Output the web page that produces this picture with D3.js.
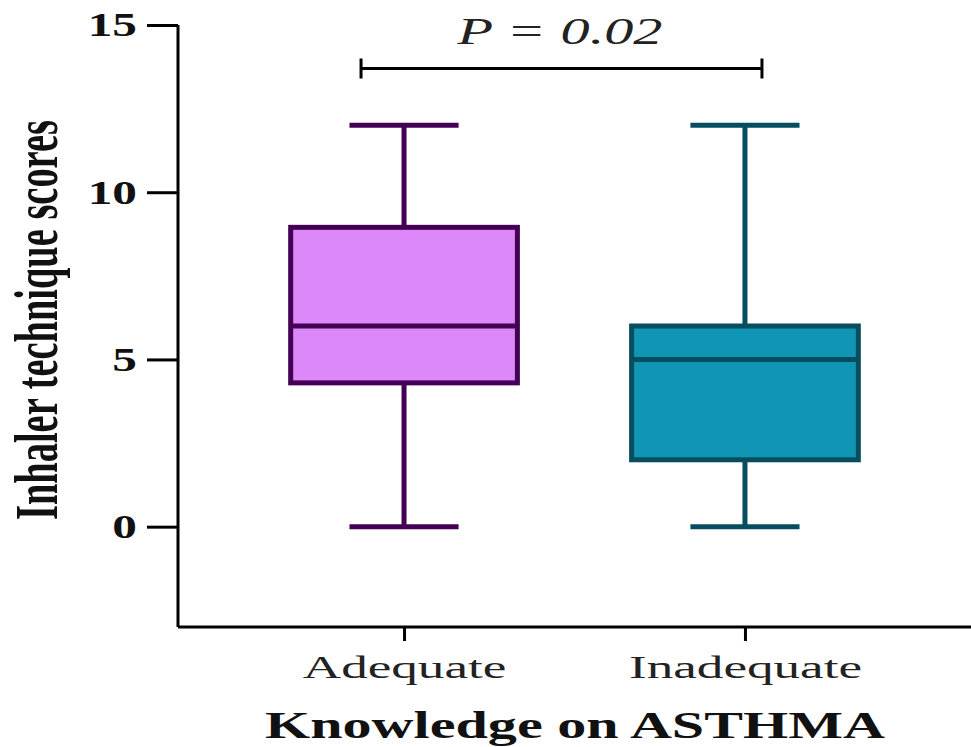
<!DOCTYPE html>
<html>
<head>
<meta charset="utf-8">
<script src="https://cdn.jsdelivr.net/npm/d3@7"></script>
<style>
  body { margin: 0; background: #fff; }
  svg { display: block; }
</style>
</head>
<body>
<div id="chart"></div>
<script>
const groups = ['Adequate', 'Inadequate'];
const mins = [0, 0];
const q1s = [4.3, 2];
const medians = [6, 5];
const q3s = [8.95, 6];
const maxs = [12, 12];
const fills = ['#dc88f8', '#1096b4'];
const strokes = ['#440055', '#064d60'];
const yTicks = [0, 5, 10, 15];
const pLabel = 'P = 0.02';

const width = 971;
const height = 747;

const svg = d3.select('#chart')
    .append('svg')
    .attr('width', width)
    .attr('height', height);

// the original figure is stretched sideways, so widen text to match
function stretch(sel, k) {
    sel.each(function () {
        const len = this.getComputedTextLength();
        d3.select(this)
            .attr('textLength', len * k)
            .attr('lengthAdjust', 'spacingAndGlyphs');
    });
}

const x = d3.scalePoint()
    .domain(groups)
    .range([178, 971])
    .padding(0.663);

const y = d3.scaleLinear()
    .domain([-3, 15])
    .range([627, 25]);

const step = x.step();
const boxW = step * 0.665;
const capW = step * 0.32;

const data = groups.map((g, i) => ({
    name: g, min: mins[i], q1: q1s[i], med: medians[i], q3: q3s[i], max: maxs[i],
    fill: fills[i], stroke: strokes[i]
}));

// boxes
const box = svg.append('g')
    .selectAll('g')
    .data(data)
    .enter()
    .append('g');

box.append('line')
    .attr('x1', d => x(d.name)).attr('x2', d => x(d.name))
    .attr('y1', d => y(d.max)).attr('y2', d => y(d.q3))
    .attr('stroke', d => d.stroke).attr('stroke-width', 5);

box.append('line')
    .attr('x1', d => x(d.name)).attr('x2', d => x(d.name))
    .attr('y1', d => y(d.q1)).attr('y2', d => y(d.min))
    .attr('stroke', d => d.stroke).attr('stroke-width', 5);

box.append('line')
    .attr('x1', d => x(d.name) - capW / 2).attr('x2', d => x(d.name) + capW / 2)
    .attr('y1', d => y(d.max)).attr('y2', d => y(d.max))
    .attr('stroke', d => d.stroke).attr('stroke-width', 5);

box.append('line')
    .attr('x1', d => x(d.name) - capW / 2).attr('x2', d => x(d.name) + capW / 2)
    .attr('y1', d => y(d.min)).attr('y2', d => y(d.min))
    .attr('stroke', d => d.stroke).attr('stroke-width', 5);

box.append('rect')
    .attr('x', d => x(d.name) - boxW / 2)
    .attr('y', d => y(d.q3))
    .attr('width', boxW)
    .attr('height', d => y(d.q1) - y(d.q3))
    .attr('fill', d => d.fill)
    .attr('stroke', d => d.stroke)
    .attr('stroke-width', 5);

box.append('line')
    .attr('x1', d => x(d.name) - boxW / 2).attr('x2', d => x(d.name) + boxW / 2)
    .attr('y1', d => y(d.med)).attr('y2', d => y(d.med))
    .attr('stroke', d => d.stroke).attr('stroke-width', 5);

// axes
const yAxis = svg.append('g')
    .attr('transform', 'translate(178,0)')
    .call(d3.axisLeft(y).tickValues(yTicks).tickSize(31).tickSizeOuter(0).tickPadding(10));

yAxis.select('.domain')
    .attr('d', `M0,${y(15)}V${y(-3)}`)
    .attr('stroke-width', 3);
yAxis.selectAll('.tick line').attr('stroke-width', 3);
yAxis.selectAll('.tick text')
    .attr('font-family', '"Liberation Serif", serif')
    .attr('font-weight', 'bold')
    .attr('font-size', 34)
    .attr('fill', '#111')
    .call(stretch, 1.45);

const xAxis = svg.append('g')
    .attr('transform', `translate(0,${y(-3)})`)
    .call(d3.axisBottom(x).tickSize(14).tickSizeOuter(0).tickPadding(14));

xAxis.select('.domain')
    .attr('d', `M178,0H${width}`)
    .attr('stroke-width', 3);
xAxis.selectAll('.tick line').attr('stroke-width', 3);
xAxis.selectAll('.tick text')
    .attr('font-family', '"Liberation Serif", serif')
    .attr('font-size', 32)
    .attr('fill', '#222')
    .call(stretch, 1.66);

// axis titles
svg.append('text')
    .attr('x', 575)
    .attr('y', 738)
    .attr('text-anchor', 'middle')
    .attr('font-family', '"Liberation Serif", serif')
    .attr('font-weight', 'bold')
    .attr('font-size', 38)
    .attr('fill', '#111')
    .text('Knowledge on ASTHMA')
    .attr('textLength', 620)
    .attr('lengthAdjust', 'spacingAndGlyphs');

svg.append('text')
    .attr('transform', `translate(57,${(120 + 520) / 2}) rotate(-90)`)
    .attr('text-anchor', 'middle')
    .attr('font-family', '"Liberation Serif", serif')
    .attr('font-weight', 'bold')
    .attr('font-size', 62)
    .attr('textLength', 400)
    .attr('lengthAdjust', 'spacingAndGlyphs')
    .attr('fill', '#111')
    .text('Inhaler technique scores');

// significance bracket
const bx1 = x(groups[0]) - 43;
const bx2 = x(groups[1]) + 17;
const by = y(13.7);
svg.append('path')
    .attr('d', `M${bx1},${by - 10}V${by + 10}M${bx1},${by}H${bx2}M${bx2},${by - 10}V${by + 10}`)
    .attr('fill', 'none')
    .attr('stroke', '#000')
    .attr('stroke-width', 3);

svg.append('text')
    .attr('x', 560)
    .attr('y', 44)
    .attr('text-anchor', 'middle')
    .attr('font-family', '"Liberation Serif", serif')
    .attr('font-style', 'italic')
    .attr('font-size', 37)
    .attr('fill', '#222')
    .text(pLabel)
    .attr('textLength', 205)
    .attr('lengthAdjust', 'spacingAndGlyphs');
</script>
</body>
</html>
